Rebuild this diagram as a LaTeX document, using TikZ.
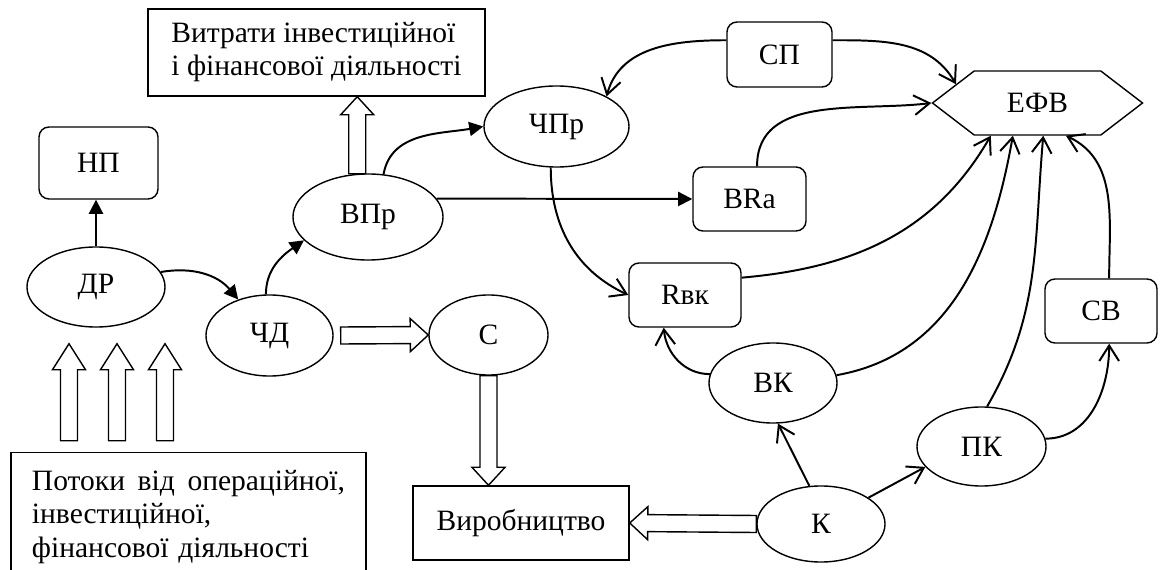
\documentclass[tikz,border=0pt]{standalone}
\usepackage{fontspec}
\setmainfont{Liberation Serif}
\usetikzlibrary{shapes.geometric,shapes.symbols,arrows.meta,calc}

\tikzset{
	oval/.style={ellipse, draw, inner sep=0pt},
	rbox/.style={rectangle, rounded corners=0.25cm, draw, inner sep=0pt},
	sbox/.style={rectangle, draw},
	solid tip/.style={line width=1.4pt, -{Triangle[length=10pt,width=10pt]}},
	open tip/.style={line width=1.4pt, -{Straight Barb[length=11pt,width=14pt]}},
	% hollow block arrow: length / head length
	pics/hollow arrow/.style args={#1/#2}{code={
		\draw[line width=1pt] (0,-0.2125cm) -- ({#1-#2},-0.2125cm) -- ({#1-#2},-0.4125cm) -- (#1,0)
			-- ({#1-#2},0.4125cm) -- ({#1-#2},0.2125cm) -- (0,0.2125cm) -- cycle;
	}},
	fat/.style={to path={let \p1=(\tikztostart), \p2=(\tikztotarget),
		\n1={veclen(\x2-\x1,\y2-\y1)}, \n2={atan2(\y2-\y1,\x2-\x1)} in
		pic[rotate=\n2] at (\p1) {hollow arrow={\n1/#1}}}},
	fat/.default=0.45cm,
}

\begin{document}
\begin{tikzpicture}[x=0.025cm, y=0.025cm, line width=1pt, font=\fontsize{21}{23.5}\selectfont]
	\useasboundingbox (0,0) rectangle (1160,-570);

	% boxes
	\node[sbox, minimum width=8.425cm, minimum height=2.175cm, align=left] (expen) at (316.5,-52.5) {Витрати інвестиційної\\і фінансової діяльності};
	\node[sbox, anchor=north, text width=7.825cm, inner xsep=0.525cm, inner ysep=0.45cm, align=left] (flows) at (188.5,-452)
		{\hbox to 7.825cm{Потоки\hfill від\hfill операційної,}\\інвестиційної,\\фінансової діяльності};
	\node[sbox, minimum width=5.4cm, minimum height=1.85cm] (prod) at (521,-523) {Виробництво};

	\node[rbox, minimum width=2.975cm, minimum height=1.8cm] (np) at (98.5,-163) {НП};
	\node[rbox, minimum width=2.625cm, minimum height=1.625cm] (sp) at (779.5,-54.5) {СП};
	\node[rbox, minimum width=2.825cm, minimum height=1.6cm] (bra) at (749.5,-199) {BRa};
	\node[rbox, minimum width=2.8cm, minimum height=1.6cm] (rvk) at (685,-295) {Rвк};
	\node[rbox, minimum width=2.8cm, minimum height=1.6cm] (sv) at (1101,-311) {СВ};

	\node[signal, signal to=west and east, signal pointer angle=75, draw, inner sep=0pt,
		minimum width=5.25cm, minimum height=1.6cm] (efv) at (1037.5,-103) {ЕФВ};

	% ovals
	\node[oval, minimum width=3.45cm, minimum height=2cm] (dr) at (96,-287) {ДР};
	\node[oval, minimum width=3.175cm, minimum height=2.025cm] (chd) at (269.5,-335.5) {ЧД};
	\node[oval, minimum width=3.75cm, minimum height=2.15cm] (vpr) at (368,-217) {ВПр};
	\node[oval, minimum width=3.625cm, minimum height=2.025cm] (chpr) at (556.5,-126.5) {ЧПр};
	\node[oval, minimum width=2.975cm, minimum height=2cm] (c) at (488.5,-335) {С};
	\node[oval, minimum width=3.2cm, minimum height=2cm] (vk) at (773,-383) {ВК};
	\node[oval, minimum width=3.225cm, minimum height=1.975cm] (pk) at (981.5,-446.5) {ПК};
	\node[oval, minimum width=3.2cm, minimum height=1.9cm] (k) at (821,-524) {К};

	% hollow flow arrows
	\foreach \dx in {-27,21,69}
		\path ($(dr.south)+(\dx,-113)$) to[fat=0.65cm] ($(dr.south)+(\dx,-16)$);
	\path (vpr.104) to[fat] (vpr.104 |- expen.south);
	\path ($(chd.east)+(7,0)$) to[fat] (c.west);
	\path (c.south) to[fat] (c.south |- prod.north);
	\path (k.west) to[fat] (prod.east);

	% filled tips
	\draw[solid tip] (dr.north) -- (dr.north |- np.south);
	\draw[solid tip] (dr.13) to[out=10, in=130] (chd.131);
	\draw[solid tip] (chd.95) to[out=90, in=215] (vpr.200);
	\draw[solid tip] (vpr.70) to[out=80, in=190] (chpr.west);
	\draw[solid tip] (vpr.15) -- (bra.west);

	% open tips
	\draw[open tip] (sp.165) to[out=180, in=75] (chpr.31);
	\draw[open tip] (sp.15) to[out=0, in=120] (efv.167);
	\draw[open tip] (bra.77) to[out=90, in=187] (efv.west);
	\draw[open tip] (chpr.262) to[out=270, in=155] (rvk.west);
	\draw[open tip] (rvk.17) to[out=5, in=240] (efv.215);
	\draw[open tip] (vk.172) to[out=180, in=275] (rvk.237);
	\draw[open tip] (vk.7) to[out=10, in=260] (efv.233);
	\draw[open tip] (pk.82) to[out=60, in=265] (efv.280);
	\draw[open tip] (sv.76) to[out=90, in=335] (efv.311);
	\draw[open tip] (pk.7) to[out=0, in=270] (sv.284);
	\draw[open tip] (k.107) -- (vk.277);
	\draw[open tip] (k.29) -- (pk.200);
\end{tikzpicture}
\end{document}
